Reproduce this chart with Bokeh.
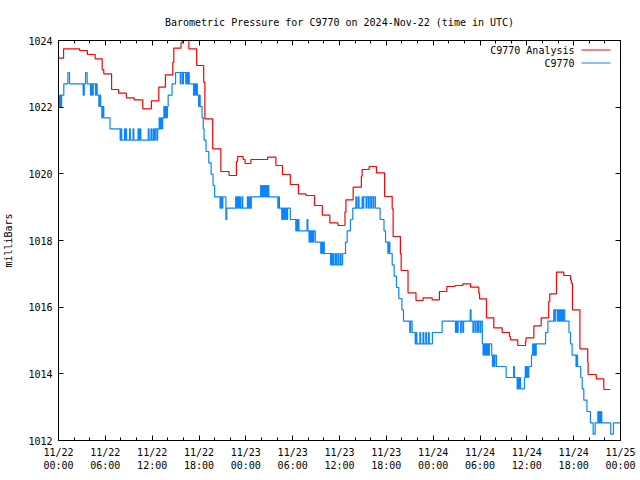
from bokeh.plotting import figure
from bokeh.models import Range1d, FixedTicker, LinearAxis, Label, PolyAnnotation
from bokeh.embed import file_html
from bokeh.resources import INLINE

title_text = "Barometric Pressure for C9770 on 2024-Nov-22 (time in UTC)"
y_label = "milliBars"
series_names = ["C9770 Analysis", "C9770"]
series_colors = ["#ff0000", "#0a84ff"]

x_tick_hours = [0, 6, 12, 18, 24, 30, 36, 42, 48, 54, 60, 66, 72]
x_minor_hours = [0, 2, 4, 6, 8, 10, 12, 14, 16, 18, 20, 22, 24, 26, 28, 30, 32, 34, 36,
                 38, 40, 42, 44, 46, 48, 50, 52, 54, 56, 58, 60, 62, 64, 66, 68, 70, 72]
x_tick_labels = ["11/22\n00:00", "11/22\n06:00", "11/22\n12:00", "11/22\n18:00",
                 "11/23\n00:00", "11/23\n06:00", "11/23\n12:00", "11/23\n18:00",
                 "11/24\n00:00", "11/24\n06:00", "11/24\n12:00", "11/24\n18:00",
                 "11/25\n00:00"]
y_ticks = [1012, 1014, 1016, 1018, 1020, 1022, 1024]

# hours since 2024-11-22 00:00 UTC (step starts) and pressure in mb
analysis_hours = [0.00, 0.65, 2.70, 3.70, 4.70, 5.60, 5.80, 6.80, 7.70, 8.70, 9.70, 10.80,
                  11.90, 12.85, 13.70, 14.64, 14.77, 15.70, 15.85, 16.70, 17.70, 18.60,
                  18.75, 19.75, 20.80, 21.85, 22.80, 22.95, 23.66, 23.90, 24.65, 26.80,
                  27.85, 28.70, 29.70, 30.75, 31.70, 32.80, 33.80, 34.76, 35.80, 36.70,
                  36.82, 37.75, 38.80, 38.90, 39.80, 40.74, 41.78, 42.75, 42.87, 43.80,
                  43.90, 44.78, 45.80, 46.70, 47.87, 48.80, 49.75, 50.80, 51.80, 52.80,
                  53.85, 53.95, 54.83, 55.77, 56.84, 57.78, 57.90, 58.84, 59.83, 59.90,
                  60.90, 61.84, 62.80, 62.94, 63.80, 64.74, 65.60, 65.70, 65.85, 66.80,
                  67.80, 67.85, 68.90, 69.86, 70.70]
analysis_mb = [1023.47, 1023.75, 1023.70, 1023.58, 1023.45, 1023.12, 1023.00, 1022.53,
               1022.42, 1022.28, 1022.22, 1021.95, 1022.19, 1022.60, 1022.97, 1023.35,
               1023.77, 1023.93, 1024.03, 1023.75, 1023.25, 1022.75, 1021.65, 1020.75,
               1020.07, 1019.95, 1020.37, 1020.52, 1020.43, 1020.31, 1020.43, 1020.50,
               1020.25, 1019.98, 1019.68, 1019.40, 1019.35, 1019.05, 1018.76, 1018.53,
               1018.45, 1018.85, 1019.22, 1019.60, 1019.93, 1020.13, 1020.22, 1020.03,
               1019.32, 1018.95, 1018.12, 1017.60, 1017.10, 1016.43, 1016.20, 1016.28,
               1016.22, 1016.47, 1016.62, 1016.65, 1016.70, 1016.60, 1016.42, 1016.25,
               1015.68, 1015.38, 1015.24, 1015.12, 1015.02, 1014.85, 1014.98, 1015.08,
               1015.44, 1015.68, 1016.17, 1016.40, 1017.05, 1016.95, 1016.82, 1016.72,
               1015.92, 1014.75, 1014.35, 1013.98, 1013.85, 1013.53, 1013.53]

c9770_hours = [
    0.00, 0.10, 0.20, 0.30, 0.40, 0.68, 1.20, 1.41, 3.16, 3.30, 3.46, 3.67, 4.10, 4.20,
    4.35, 4.45, 4.74, 4.85, 4.95, 5.17, 5.30, 5.40, 5.55, 5.65, 5.80, 6.60, 7.90, 8.00,
    8.10, 8.45, 8.55, 8.65, 8.72, 9.10, 9.20, 9.55, 9.65, 10.20, 10.30, 10.45, 10.55,
    11.50, 11.60, 11.85, 11.95, 12.15, 12.25, 12.40, 12.60, 12.70, 12.90, 13.00, 13.10,
    13.25, 13.35, 13.50, 13.60, 13.70, 13.85, 13.95, 14.05, 14.55, 15.00, 15.60, 15.70,
    15.90, 16.00, 16.30, 16.40, 16.55, 16.65, 16.75, 17.30, 17.40, 17.55, 17.65, 17.80,
    17.95, 18.05, 18.15, 18.40, 18.55, 18.65, 18.90, 19.25, 19.55, 19.80, 20.00,
    20.70, 20.80, 20.95, 21.05, 21.45, 21.55, 22.70, 22.85, 22.95, 23.10, 23.20, 23.30,
    23.50, 23.60, 24.20, 24.30, 24.45, 24.55, 24.70, 25.90, 26.00, 26.10, 26.25, 26.35,
    26.50, 26.60, 26.75, 26.85, 26.95,
    28.10, 28.20, 28.30, 28.60, 28.70, 28.80, 28.90, 29.00, 29.10, 29.25, 29.35, 29.70,
    30.40, 30.50, 30.60, 30.70, 30.80, 31.85, 31.95, 32.10, 32.20, 32.35, 32.45, 32.60,
    32.70, 32.90, 33.60, 33.70, 33.85, 33.95, 34.05, 34.85, 34.95, 35.05, 35.20, 35.30,
    35.50, 35.60, 35.80, 35.90, 36.10, 36.20, 36.40, 36.77, 36.98, 37.40, 37.70, 38.10,
    38.20, 38.40, 38.50, 38.90, 39.00, 39.10, 39.40, 39.50, 39.70, 39.80, 40.00, 40.10,
    40.30, 40.40, 40.60, 41.20, 41.70, 41.90, 42.20, 42.30, 42.45, 42.75, 43.00, 43.30,
    43.60, 44.00, 44.20, 45.00, 45.10, 45.30, 45.70, 45.80, 45.90, 46.30, 46.40, 46.70,
    46.80, 47.05, 47.15, 47.40, 47.50, 47.90, 49.15, 50.86, 50.95, 51.10, 51.20, 51.50,
    51.60, 51.80, 51.90, 52.75, 52.85, 53.10, 53.20, 53.40, 53.50, 53.70, 53.80, 54.00,
    54.10,
    54.30, 54.40, 54.50, 54.65, 54.75, 54.90, 55.00, 55.10, 55.20, 55.50, 55.60, 55.70,
    55.80, 55.90, 56.10, 57.35, 58.30, 58.40, 58.76, 58.85, 58.95, 59.05, 59.20, 59.70,
    59.80, 59.90, 60.00, 60.10, 60.25, 60.60, 60.75, 60.85, 61.00, 61.10, 61.20, 62.40,
    62.70, 63.45, 63.55, 63.65, 63.90, 64.00, 64.15, 64.25, 64.40, 64.50, 64.60, 64.70,
    64.86, 65.40, 65.60, 65.80, 66.30, 66.40, 66.50, 66.90, 67.10, 67.30, 67.70, 68.15,
    68.50, 68.75, 69.10, 69.20, 69.30, 69.40, 69.50, 69.60, 70.75, 71.10, 72.00]
c9770_mb = [
    1022.36, 1022.02, 1022.36, 1022.02, 1022.36, 1022.70, 1023.04, 1022.70, 1022.36,
    1022.70, 1023.04, 1022.70, 1022.36, 1022.70, 1022.36, 1022.70, 1022.36, 1022.70,
    1022.36, 1022.02, 1022.36, 1022.02, 1021.68, 1022.02, 1021.68, 1021.35, 1021.01,
    1021.35, 1021.01, 1021.35, 1021.01, 1021.35, 1021.01, 1021.35, 1021.01, 1021.35,
    1021.01, 1021.35, 1021.01, 1021.35, 1021.01, 1021.35, 1021.01, 1021.35, 1021.01,
    1021.35, 1021.01, 1021.35, 1021.01, 1021.35, 1021.68, 1021.35, 1021.68, 1021.35,
    1021.68, 1022.02, 1021.68, 1022.02, 1021.68, 1022.02, 1022.36, 1022.70, 1023.04,
    1022.70, 1023.04, 1022.70, 1023.04, 1022.70, 1023.04, 1022.70, 1023.04, 1022.70,
    1022.36, 1022.70, 1022.36, 1022.70, 1022.36, 1022.02, 1022.36, 1022.02, 1021.68,
    1021.35, 1021.01, 1020.67, 1020.33, 1019.99, 1019.65, 1019.31,
    1018.97, 1019.31, 1018.97, 1019.31, 1018.63, 1018.97, 1019.31, 1018.97, 1019.31,
    1018.97, 1019.31, 1018.97, 1019.31, 1018.97, 1019.31, 1018.97, 1019.31, 1018.97,
    1019.31, 1019.65, 1019.31, 1019.65, 1019.31, 1019.65, 1019.31, 1019.65, 1019.31,
    1019.65, 1019.31,
    1018.97, 1019.31, 1018.97, 1018.63, 1018.97, 1018.63, 1018.97, 1018.63, 1018.97,
    1018.63, 1018.97, 1018.63, 1018.29, 1018.63, 1018.29, 1018.63, 1018.29, 1018.63,
    1018.29, 1017.95, 1018.29, 1017.95, 1018.29, 1017.95, 1018.29, 1017.95, 1017.61,
    1017.95, 1017.61, 1017.95, 1017.61, 1017.27, 1017.61, 1017.27, 1017.61, 1017.27,
    1017.61, 1017.27, 1017.61, 1017.27, 1017.61, 1017.27, 1017.61, 1017.95, 1018.29,
    1018.63, 1018.97, 1019.31, 1018.97, 1019.31, 1018.97, 1019.31, 1018.97, 1019.31,
    1018.97, 1019.31, 1018.97, 1019.31, 1018.97, 1019.31, 1018.97, 1019.31, 1018.97,
    1018.63, 1018.29, 1017.95, 1017.61, 1017.95, 1017.61, 1017.27, 1016.93, 1016.59,
    1016.26, 1015.92, 1015.58, 1015.24, 1015.58, 1015.24, 1014.90, 1015.24, 1014.90,
    1015.24, 1014.90, 1015.24, 1014.90, 1015.24, 1014.90, 1015.24, 1014.90, 1015.24,
    1015.58, 1015.24, 1015.58, 1015.24, 1015.58, 1015.24, 1015.58, 1015.24, 1015.58,
    1015.92, 1015.58, 1015.24, 1015.58, 1015.24, 1015.58, 1015.24, 1015.58, 1015.24,
    1015.58,
    1014.90, 1014.56, 1014.90, 1014.56, 1014.90, 1014.56, 1014.90, 1014.56, 1014.90,
    1014.56, 1014.22, 1014.56, 1014.22, 1014.56, 1014.22, 1013.89, 1014.22, 1013.89,
    1013.55, 1013.89, 1013.55, 1013.89, 1013.55, 1013.89, 1014.22, 1013.89, 1014.22,
    1013.89, 1014.22, 1014.56, 1014.90, 1014.56, 1014.90, 1014.56, 1014.90, 1015.24,
    1015.58, 1015.92, 1015.58, 1015.92, 1015.58, 1015.92, 1015.58, 1015.92, 1015.58,
    1015.92, 1015.58, 1015.92, 1015.58, 1015.24, 1014.90, 1014.56, 1014.22, 1014.56,
    1014.22, 1013.89, 1013.55, 1013.21, 1012.87, 1012.53, 1012.19, 1012.53, 1012.87,
    1012.53, 1012.87, 1012.53, 1012.87, 1012.53, 1012.19, 1012.53, 1012.53]

FONT = "DejaVu Sans Mono"
FS = "10px"

p = figure(width=640, height=480, output_backend="svg", toolbar_location=None,
           x_range=Range1d(0, 72), y_range=Range1d(1012, 1024),
           min_border_left=58, min_border_right=20, min_border_top=40,
           min_border_bottom=40, background_fill_color="white",
           border_fill_color="white")

p.title.text = title_text
p.title.align = "center"
p.title.text_font = FONT
p.title.text_font_size = FS
p.title.text_font_style = "normal"
p.title.text_color = "black"
p.title.standoff = 26

p.xgrid.visible = False
p.ygrid.visible = False
p.outline_line_color = "black"
p.outline_line_width = 1


def style_axis(ax):
    ax.axis_line_color = "black"
    ax.major_tick_in = 5
    ax.major_tick_out = 0
    ax.minor_tick_in = 3
    ax.minor_tick_out = 0
    ax.major_tick_line_color = "black"
    ax.minor_tick_line_color = "black"
    ax.major_label_text_font = FONT
    ax.major_label_text_font_size = FS
    ax.major_label_text_color = "black"
    ax.major_label_standoff = 6


xt = FixedTicker(ticks=x_tick_hours, minor_ticks=x_minor_hours)
yt = FixedTicker(ticks=y_ticks, minor_ticks=[])

p.xaxis.ticker = xt
p.xaxis.major_label_overrides = dict(zip(x_tick_hours, x_tick_labels))
style_axis(p.xaxis[0])
p.yaxis.ticker = yt
style_axis(p.yaxis[0])
p.yaxis.axis_label = y_label
p.yaxis.axis_label_text_font = FONT
p.yaxis.axis_label_text_font_size = FS
p.yaxis.axis_label_text_font_style = "normal"
p.yaxis.axis_label_text_color = "black"
p.yaxis.axis_label_standoff = 11

# mirrored tick marks on top and right (no labels)
top = LinearAxis(ticker=FixedTicker(ticks=x_tick_hours, minor_ticks=x_minor_hours),
                 major_label_overrides={t: "" for t in x_tick_hours})
style_axis(top)
p.add_layout(top, "above")
right = LinearAxis(ticker=FixedTicker(ticks=y_ticks, minor_ticks=[]),
                   major_label_overrides={t: "" for t in y_ticks})
style_axis(right)
p.add_layout(right, "right")

p.step(x=analysis_hours, y=analysis_mb, mode="after",
       line_color=series_colors[0], line_width=1.2)
p.step(x=c9770_hours, y=c9770_mb, mode="after",
       line_color=series_colors[1], line_width=1.2)

# legend (gnuplot style: text right-aligned, sample to its right)
leg_rows = [390.5, 377.5]
for name, color, sy in zip(series_names, series_colors, leg_rows):
    p.add_layout(Label(x=516, y=sy, x_units="screen", y_units="screen", text=name,
                       text_font=FONT, text_font_size=FS, text_align="right",
                       text_baseline="middle", text_color="black"))
    p.add_layout(PolyAnnotation(xs=[523, 552, 552, 523], ys=[sy, sy, sy, sy],
                                xs_units="screen", ys_units="screen",
                                line_color=color, line_alpha=1.0, line_width=1.2,
                                fill_alpha=0))

open("out.html", "w").write(file_html(p, INLINE))
